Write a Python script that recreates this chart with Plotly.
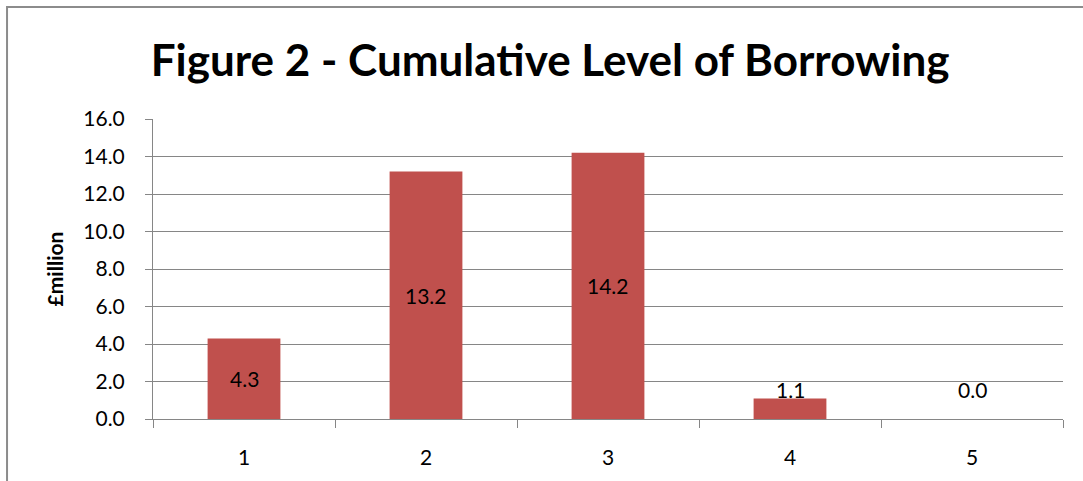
import plotly.graph_objects as go

categories = ["1", "2", "3", "4", "5"]
values = [4.3, 13.2, 14.2, 1.1, 0.0]
value_labels = ["4.3", "13.2", "14.2", "1.1", "0.0"]
y_ticks = [0, 2, 4, 6, 8, 10, 12, 14, 16]
y_tick_labels = [f"{v:.1f}" for v in y_ticks]

FONT = "Lato, 'Open Sans', sans-serif"
BAR_COLOR = "#C0504D"
GRID = "#868686"

fig = go.Figure()
fig.add_trace(go.Bar(
    x=categories, y=values,
    marker=dict(color=BAR_COLOR, line=dict(width=0)),
    hoverinfo="skip",
))

# data labels: centred in bar, with a minimum height for short bars
min_label_y = 1.6
for i, (v, t) in enumerate(zip(values, value_labels)):
    fig.add_annotation(x=i, y=max(v / 2, min_label_y), text=t, showarrow=False,
                       font=dict(family=FONT, size=21, color="black"),
                       xanchor="center", yanchor="middle")

fig.update_layout(
    width=1083, height=481,
    margin=dict(l=153, r=20, t=119, b=60),
    paper_bgcolor="white", plot_bgcolor="white",
    showlegend=False,
    bargap=0.6,
    title=dict(text="<b>Figure 2 - Cumulative Level of Borrowing</b>",
               x=0.508, xanchor="center", y=0.875, yanchor="middle",
               font=dict(family=FONT, size=44, color="black")),
    xaxis=dict(type="category", tickson="boundaries", ticks="outside", ticklen=8,
               tickcolor=GRID, tickwidth=1, showline=True, linecolor=GRID, linewidth=1,
               showgrid=False, tickfont=dict(family=FONT, size=21, color="black"),
               ticklabelstandoff=20, range=[-0.5, 4.5]),
    yaxis=dict(range=[0, 16], tickvals=y_ticks, ticktext=y_tick_labels,
               ticks="outside", ticklen=7, tickcolor=GRID, tickwidth=1,
               showline=True, linecolor=GRID, linewidth=1,
               showgrid=True, gridcolor=GRID, gridwidth=1, zeroline=False,
               tickfont=dict(family=FONT, size=21, color="black"),
               ticklabelstandoff=16,
               title=dict(text="<b>£million</b>", font=dict(family=FONT, size=21, color="black"),
                          standoff=13)),
)

# chart-area border (only left and top edges visible in the crop)
fig.add_shape(type="rect", xref="paper", yref="paper",
              x0=-0.1604, x1=1.2, y0=-0.6, y1=1.3735,
              line=dict(color="#8C8C8C", width=2), fillcolor="rgba(0,0,0,0)", layer="below")

fig.write_html("out.html")
